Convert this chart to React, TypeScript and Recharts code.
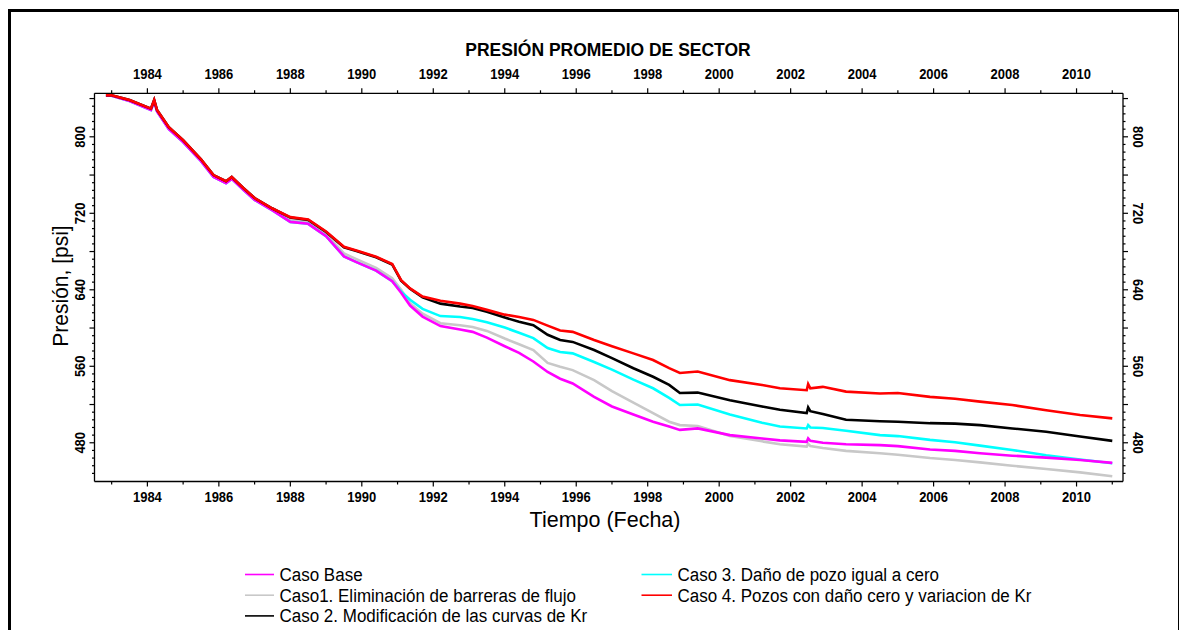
import React from 'react';
import { LineChart, Line, XAxis, YAxis } from 'recharts';

const years = [
  1982.84, 1983.0, 1983.5, 1984.1, 1984.19, 1984.27, 1984.6, 1985.0, 1985.5, 1985.85,
  1986.2, 1986.36, 1986.7, 1987.0, 1987.5, 1988.0, 1988.5, 1989.0, 1989.5, 1989.85,
  1990.4, 1990.85, 1991.1, 1991.35, 1991.7, 1992.2, 1992.75, 1993.1, 1993.5, 1994.0,
  1994.4, 1994.8, 1995.2, 1995.55, 1995.9, 1996.5, 1997.0, 1997.6, 1998.15, 1998.6,
  1998.9, 1999.4, 2000.3, 2001.2, 2001.7, 2002.45, 2002.49, 2002.55, 2002.9, 2003.55,
  2004.5, 2005.0, 2005.9, 2006.6, 2007.3, 2008.2, 2009.15, 2010.1, 2011.0,
];

const casoBase = [
  843, 843, 837.5, 828, 837, 826.5, 808, 794.5, 774.5, 758,
  751.5, 756, 744, 734, 723, 711, 709, 696, 675, 669,
  660, 649, 637, 623.5, 612, 602, 598.5, 596, 590, 581,
  574, 565, 554, 547, 542, 528, 518, 509.5, 502, 497,
  493.5, 495, 488, 484.5, 482.5, 481, 484.5, 482, 480, 478.5,
  477.5, 476.5, 473, 471.5, 469, 466.5, 464.5, 462, 459,
];

const caso1 = [
  843, 843, 838, 829, 838, 827.5, 809, 795.5, 775.5, 759,
  752.5, 757, 745, 735, 724, 713, 711, 698, 678, 672,
  663, 652, 640, 626, 615, 605, 603, 601, 597, 589,
  583, 577, 563.5, 559.5, 556, 545.5, 534, 522, 511, 502,
  498.5, 497.5, 487, 481.5, 478.5, 476, 479, 476.5, 474.5, 471.5,
  469, 467.5, 464, 462, 459.5, 456, 452.5, 449, 445,
];

const caso2 = [
  843.5, 843.5, 838.5, 829.5, 838.5, 828, 810, 796.5, 776.5, 760,
  753.5, 758, 746, 736, 725, 715.5, 713, 700.5, 684.5, 680.5,
  674, 666.5, 649.5, 641, 632, 625.5, 622.5, 621, 617, 611,
  606.5, 603, 593, 587.5, 585.5, 577, 568.5, 558, 549, 540.5,
  532, 532.5, 524.5, 518, 514.5, 511, 517, 513, 510, 504,
  502.5, 502, 500.5, 500, 498.5, 495, 491.5, 486.5, 482,
];

const caso3 = [
  843, 843, 837.5, 828, 837, 826.5, 808, 794.5, 774.5, 758,
  751.5, 756, 744, 734, 723, 711, 709, 696, 675, 669,
  660, 649, 638, 629.5, 620, 612.5, 611.5, 609.5, 606, 600.5,
  595, 589.5, 579, 575, 573.5, 564.5, 556.5, 546, 537, 527,
  519.5, 520, 509.5, 501, 497, 495, 498.5, 496, 495.5, 492.5,
  488, 487, 483, 480.5, 477, 472.5, 467, 462.5, 458.5,
];

const caso4 = [
  843.5, 843.5, 838.5, 829.5, 838.5, 828, 810, 796.5, 776.5, 760,
  753.5, 758, 746, 736, 725, 716, 713.5, 701, 685, 681,
  674.5, 667, 650, 641.5, 633, 628.5, 625.5, 623, 619, 614,
  611.5, 608.5, 602.5, 597.5, 596, 587.5, 581, 573.5, 566.5, 558,
  553, 554.5, 545.5, 540.5, 537, 535, 541.5, 537, 538.5, 533.5,
  531.5, 532, 528, 526, 523, 519.5, 514, 509, 505.5,
];

const seriesKeys = ['base', 'c1', 'c2', 'c3', 'c4'];
const seriesNames = [
  'Caso Base',
  'Caso1. Eliminación de barreras de flujo',
  'Caso 2. Modificación de las curvas de Kr',
  'Caso 3. Daño de pozo igual a cero',
  'Caso 4. Pozos con daño cero y variacion de Kr',
];
const seriesColors = ['#FF00FF', '#C8C8C8', '#000000', '#00FFFF', '#FF0000'];
// drawing order (bottom to top)
const drawOrder = [1, 3, 0, 2, 4];

const xTickYears = [
  1983, 1984, 1985, 1986, 1987, 1988, 1989, 1990, 1991, 1992, 1993, 1994, 1995, 1996, 1997,
  1998, 1999, 2000, 2001, 2002, 2003, 2004, 2005, 2006, 2007, 2008, 2009, 2010, 2011,
];
const xLabelYears = [1984, 1986, 1988, 1990, 1992, 1994, 1996, 1998, 2000, 2002, 2004, 2006, 2008, 2010];
const yLabelTicks = [480, 560, 640, 720, 800];
const yMediumStep = 40;
const yMinorStep = 8;
const yDomain: [number, number] = [439.5, 845.5];
const xDomain: [number, number] = [1982.52, 2011.3];

const yTicks: number[] = [];
for (let v = 448; v <= 840; v += yMinorStep) yTicks.push(v);

const data = years.map((yr, i) => ({
  year: yr,
  base: casoBase[i],
  c1: caso1[i],
  c2: caso2[i],
  c3: caso3[i],
  c4: caso4[i],
}));

const FONT = "'Liberation Sans', Arial, Helvetica, sans-serif";
const W = 1172;
const H = 622;
const TICK_STRETCH = 1.15;

const TickText = ({ x, y, angle, children }: any) => (
  <text
    x={0}
    y={0}
    transform={`translate(${x} ${y}) rotate(${angle || 0}) scale(1 ${TICK_STRETCH})`}
    textAnchor="middle"
    dominantBaseline="central"
    fontFamily={FONT}
    fontWeight="bold"
    fontSize={13}
    fill="#000"
  >
    {children}
  </text>
);

const XTickBottom = (props: any) => {
  const { x, y, payload } = props;
  const v = payload.value;
  const major = xLabelYears.includes(v);
  return (
    <g>
      <line x1={x} x2={x} y1={y} y2={y + (major ? 5 : 3)} stroke="#000" strokeWidth={1.2} />
      {major && <TickText x={x} y={y + 15.5}>{v}</TickText>}
    </g>
  );
};

const XTickTop = (props: any) => {
  const { x, y, payload } = props;
  const v = payload.value;
  const major = xLabelYears.includes(v);
  return (
    <g>
      <line x1={x} x2={x} y1={y} y2={y - (major ? 5 : 3)} stroke="#000" strokeWidth={1.2} />
      {major && <TickText x={x} y={y - 19.5}>{v}</TickText>}
    </g>
  );
};

const YTickLeft = (props: any) => {
  const { x, y, payload } = props;
  const v = payload.value;
  const labeled = yLabelTicks.includes(v);
  const medium = v % yMediumStep === 0;
  return (
    <g>
      <line x1={x} x2={x - (medium ? 5 : 2.5)} y1={y} y2={y} stroke="#000" strokeWidth={1.2} />
      {labeled && <TickText x={x - 14.5} y={y} angle={-90}>{v}</TickText>}
    </g>
  );
};

const YTickRight = (props: any) => {
  const { x, y, payload } = props;
  const v = payload.value;
  const labeled = yLabelTicks.includes(v);
  const medium = v % yMediumStep === 0;
  return (
    <g>
      <line x1={x} x2={x + (medium ? 5 : 2.5)} y1={y} y2={y} stroke="#000" strokeWidth={1.2} />
      {labeled && <TickText x={x + 15} y={y} angle={90}>{v}</TickText>}
    </g>
  );
};

const legendLeft = [0, 1, 2];
const legendRight = [3, 4];

const PlainText = ({ x, y, size, bold, angle, stretch, children }: any) => (
  <text
    x={0}
    y={0}
    transform={`translate(${x} ${y}) rotate(${angle || 0}) scale(1 ${stretch || 1})`}
    textAnchor="middle"
    dominantBaseline="central"
    fontFamily={FONT}
    fontWeight={bold ? 'bold' : 'normal'}
    fontSize={size}
    fill="#000"
  >
    {children}
  </text>
);

export default function App() {
  return (
    <div style={{ position: 'relative', width: W, height: H, background: '#fff' }}>
      <LineChart
        width={W}
        height={H}
        data={data}
        margin={{ top: 55.3, right: 17, bottom: 118.5, left: 46.5 }}
      >
        <XAxis
          xAxisId="bottom"
          dataKey="year"
          type="number"
          orientation="bottom"
          domain={xDomain}
          allowDataOverflow
          ticks={xTickYears}
          interval={0}
          tick={<XTickBottom />}
          tickLine={false}
          tickSize={0}
          tickMargin={0}
          height={30}
          axisLine={{ stroke: '#000', strokeWidth: 1.3 }}
        />
        <XAxis
          xAxisId="top"
          dataKey="year"
          type="number"
          orientation="top"
          domain={xDomain}
          allowDataOverflow
          ticks={xTickYears}
          interval={0}
          tick={<XTickTop />}
          tickLine={false}
          tickSize={0}
          tickMargin={0}
          height={30}
          axisLine={{ stroke: '#000', strokeWidth: 1.3 }}
        />
        <YAxis
          yAxisId="left"
          type="number"
          orientation="left"
          domain={yDomain}
          allowDataOverflow
          ticks={yTicks}
          interval={0}
          tick={<YTickLeft />}
          tickLine={false}
          tickSize={0}
          tickMargin={0}
          width={40}
          axisLine={{ stroke: '#000', strokeWidth: 1.3 }}
        />
        <YAxis
          yAxisId="right"
          type="number"
          orientation="right"
          domain={yDomain}
          allowDataOverflow
          ticks={yTicks}
          interval={0}
          tick={<YTickRight />}
          tickLine={false}
          tickSize={0}
          tickMargin={0}
          width={40}
          axisLine={{ stroke: '#000', strokeWidth: 1.3 }}
        />
        {drawOrder.map((i) => (
          <Line
            key={seriesKeys[i]}
            xAxisId="bottom"
            yAxisId="left"
            type="linear"
            dataKey={seriesKeys[i]}
            name={seriesNames[i]}
            stroke={seriesColors[i]}
            strokeWidth={2.6}
            dot={false}
            activeDot={false}
            isAnimationActive={false}
          />
        ))}
      </LineChart>
      <svg
        width={W}
        height={H}
        style={{ position: 'absolute', left: 0, top: 0, pointerEvents: 'none' }}
      >
        <PlainText x={600} y={42} size={17.5} bold stretch={1.08}>PRESIÓN PROMEDIO DE SECTOR</PlainText>
        <PlainText x={597} y={511} size={21.5} stretch={1.05}>Tiempo (Fecha)</PlainText>
        <PlainText x={52.5} y={278} size={21} angle={-90} stretch={1.05}>Presión, [psi]</PlainText>
        {legendLeft.map((si, r) => {
          const y = 566.5 + r * 20.7;
          return (
            <g key={'l' + si}>
              <line x1={237} x2={266} y1={y} y2={y} stroke={seriesColors[si]} strokeWidth={1.6} />
              <text
                x={0}
                y={0}
                transform={`translate(271.5 ${y}) scale(1 1.12)`}
                dominantBaseline="central"
                fontFamily={FONT}
                fontSize={17}
                fill="#000"
              >
                {seriesNames[si]}
              </text>
            </g>
          );
        })}
        {legendRight.map((si, r) => {
          const y = 566.5 + r * 20.7;
          return (
            <g key={'r' + si}>
              <line x1={633.5} x2={664} y1={y} y2={y} stroke={seriesColors[si]} strokeWidth={1.6} />
              <text
                x={0}
                y={0}
                transform={`translate(669.5 ${y}) scale(1 1.12)`}
                dominantBaseline="central"
                fontFamily={FONT}
                fontSize={17}
                fill="#000"
              >
                {seriesNames[si]}
              </text>
            </g>
          );
        })}
      </svg>
      <div
        style={{
          position: 'absolute',
          left: 0,
          top: 1,
          width: 1174,
          height: H - 1,
          borderLeft: '3px solid #000',
          borderTop: '3px solid #000',
          borderRight: '4px solid #000',
          boxSizing: 'border-box',
          pointerEvents: 'none',
        }}
      />
    </div>
  );
}
